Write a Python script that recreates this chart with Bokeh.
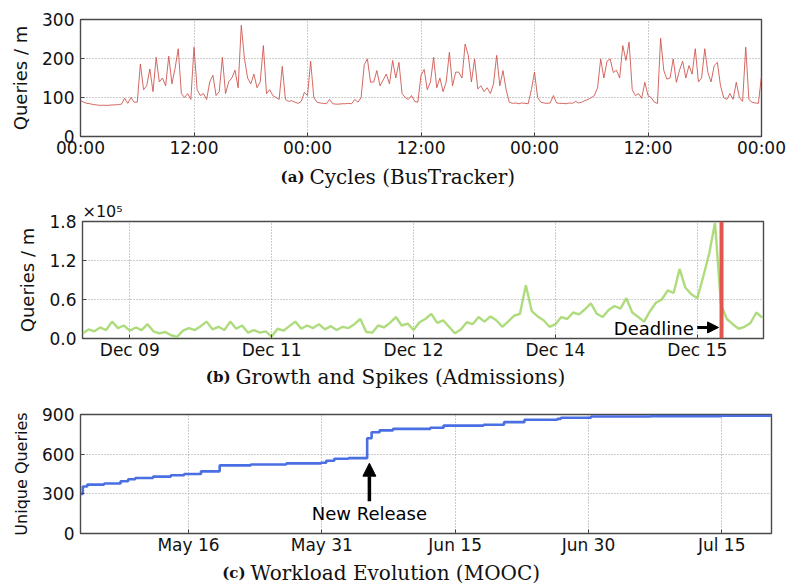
from bokeh.plotting import figure
from bokeh.layouts import column, row
from bokeh.models import Label, Arrow, NormalHead, Span, FixedTicker
from bokeh.embed import file_html
from bokeh.resources import INLINE

# ---------------- (a) Cycles (BusTracker): queries / minute, 20-min samples over 3 days
cycle_step_hours = 1 / 3
cycle_values = [
    # day 1
    92, 88, 85, 84, 82, 81, 80, 80, 80, 80, 81, 81, 82, 83, 98, 85, 100, 88,
    88, 186, 120, 130, 173, 115, 203, 140, 150, 130, 206, 135, 175, 225, 110,
    100, 110, 95, 229, 120, 105, 110, 95, 140, 157, 105, 115, 203, 110, 140,
    150, 170, 125, 285, 200, 150, 135, 160, 125, 140, 233, 110, 120, 105, 100,
    95, 180, 95, 90, 92, 88, 85, 90, 113,
    # day 2
    105, 193, 100, 88, 86, 85, 84, 95, 84, 83, 83, 84, 84, 85, 84, 95, 88, 100,
    184, 199, 139, 140, 169, 130, 145, 160, 135, 195, 150, 190, 110, 100, 95,
    105, 90, 88, 157, 172, 120, 140, 203, 125, 150, 115, 140, 216, 130, 165,
    165, 150, 237, 208, 140, 199, 122, 130, 115, 125, 110, 135, 208, 130, 169,
    120, 88, 85, 86, 84, 86, 85, 84, 120,
    # day 3
    165, 100, 88, 86, 85, 86, 105, 86, 85, 85, 84, 86, 85, 90, 86, 88, 92, 95,
    100, 105, 125, 199, 150, 193, 199, 164, 170, 150, 233, 195, 242, 120, 105,
    110, 98, 139, 105, 100, 88, 85, 252, 170, 147, 150, 199, 139, 170, 193,
    150, 182, 160, 225, 140, 150, 225, 164, 140, 182, 190, 130, 100, 95, 110,
    95, 139, 100, 90, 229, 95, 88, 86, 85,
    155,
]
cycle_ticks = [0, 12, 24, 36, 48, 60, 72]
cycle_tick_labels = ["00:00", "12:00", "00:00", "12:00", "00:00", "12:00", "00:00"]
cycle_yticks = [0, 100, 200, 300]
cycle_ytick_labels = ["0", "100", "200", "300"]

# ---------------- (b) Growth and Spikes (Admissions): hourly queries / minute
adm_values = [
    7700, 14000, 11000, 17000, 13000, 26000, 16000, 20000, 12000, 17000,
    13000, 22000, 11000, 8000, 10000, 5000, 2500, 12000, 16000, 13000,
    19000, 26000, 14000, 18000, 13000, 26000, 15000, 20000, 9000, 13000,
    9000, 11000, 3000, 15000, 12000, 19000, 26000, 15000, 20000, 16000,
    22000, 14000, 19000, 13000, 18000, 16000, 22000, 30000, 10000, 9000,
    20000, 17000, 24000, 33000, 20000, 23000, 13000, 25000, 30000, 38000,
    24000, 28000, 18000, 8000, 14000, 25000, 22000, 33000, 26000, 34000,
    28000, 18000, 26000, 35000, 38000, 82000, 42000, 34000, 28000, 18000,
    22000, 33000, 30000, 40000, 37000, 45000, 54000, 38000, 33000, 44000,
    50000, 46000, 62000, 40000, 33000, 26000, 42000, 55000, 60000, 74000,
    70000, 107000, 78000, 68000, 62000, 95000, 130000, 178000, 52000, 30000,
    22000, 15000, 18000, 24000, 40000, 32000,
]
adm_ticks = [8, 32, 56, 80, 104]
adm_tick_labels = ["Dec 09", "Dec 11", "Dec 12", "Dec 14", "Dec 15"]
adm_yticks = [0, 60000, 120000, 180000]
adm_ytick_labels = ["0.0", "0.6", "1.2", "1.8"]
DEADLINE_HOUR = 108.1

# ---------------- (c) Workload Evolution (MOOC): days since May 1
mooc_days = [2.84, 3.1, 3.6, 5.5, 7.35, 8.2, 9.0, 11, 13, 14.5, 16.4, 18.5,
             22, 26, 29.9, 30.5, 31.4, 33, 35.1, 35.6, 36.5, 38, 42.2, 43.7,
             48.2, 50.5, 52.8, 56.5, 56.9, 60.3, 67, 75, 80.6]
mooc_unique = [300, 355, 370, 378, 395, 410, 420, 430, 440, 450, 470, 515,
               522, 530, 535, 550, 565, 570, 720, 766, 780, 791, 800, 816,
               822, 842, 860, 867, 875, 885, 888, 890, 892]
mooc_ticks = [15, 30, 45, 60, 75]
mooc_tick_labels = ["May 16", "May 31", "Jun 15", "Jun 30", "Jul 15"]
mooc_yticks = [0, 300, 600, 900]
mooc_ytick_labels = ["0", "300", "600", "900"]
RELEASE_DAY = 35.35

SANS = "DejaVu Sans"
SERIF = "DejaVu Serif"
W = 788


def style(p, xt, xl, yt, yl, ylabel, ylabel_size):
    p.xaxis.ticker = FixedTicker(ticks=xt)
    p.xaxis.major_label_overrides = dict(zip(xt, xl))
    p.yaxis.ticker = FixedTicker(ticks=yt)
    p.yaxis.major_label_overrides = dict(zip(yt, yl))
    p.xgrid.ticker = FixedTicker(ticks=xt)
    p.ygrid.ticker = FixedTicker(ticks=yt)
    p.yaxis.axis_label = ylabel
    p.yaxis.axis_label_text_font = SANS
    p.yaxis.axis_label_text_font_size = ylabel_size
    p.yaxis.axis_label_text_font_style = "normal"
    p.yaxis.axis_label_text_color = "#111"
    p.yaxis.axis_label_standoff = 8
    p.axis.major_label_text_font = SANS
    p.axis.major_label_text_font_size = "17px"
    p.axis.major_label_text_color = "#111"
    p.axis.axis_line_color = None
    p.axis.major_tick_in = 4
    p.axis.major_tick_out = 0
    p.axis.major_tick_line_color = "#444"
    p.axis.minor_tick_line_color = None
    p.xaxis.major_label_standoff = 1
    p.yaxis.major_label_standoff = 6
    p.grid.grid_line_color = "#9a9a9a"
    p.grid.grid_line_dash = "1 2"
    p.grid.grid_line_width = 1
    p.outline_line_color = "#4a4a4a"
    p.outline_line_width = 1.4
    p.background_fill_color = "white"
    p.border_fill_color = "white"


def caption_fig(height, tag, text, x_tag_right, y):
    c = figure(width=W, height=height, x_range=(0, W), y_range=(0, height),
               output_backend="svg", toolbar_location=None,
               x_axis_type=None, y_axis_type=None,
               min_border_left=0, min_border_right=0, min_border_top=0,
               min_border_bottom=0)
    c.title.visible = False
    c.grid.visible = False
    c.outline_line_color = None
    c.border_fill_color = "white"
    c.add_layout(Label(x=x_tag_right, y=y, text=tag, text_font=SERIF,
                       text_font_size="15px", text_font_style="bold",
                       text_align="right", text_baseline="alphabetic",
                       text_color="#111"))
    c.add_layout(Label(x=x_tag_right + 5, y=y, text=text, text_font=SERIF,
                       text_font_size="20px", text_align="left",
                       text_baseline="alphabetic", text_color="#111"))
    return c


# ---- panel a
pa = figure(width=W, height=164, x_range=(0, 72), y_range=(0, 300),
            output_backend="svg", toolbar_location=None,
            min_border_left=80, min_border_right=27, min_border_top=19,
            min_border_bottom=28)
cx = [i * cycle_step_hours for i in range(len(cycle_values))]
pa.line(cx, cycle_values, line_color="#cd4f48", line_width=1, line_alpha=0.85)
style(pa, cycle_ticks, cycle_tick_labels, cycle_yticks, cycle_ytick_labels,
      "Queries / m", "18px")
cap_a = caption_fig(26, "(a)", "Cycles (BusTracker)", 304, 14)

# ---- panel b
pb = figure(width=W, height=176, x_range=(0, 115.2), y_range=(0, 180000),
            output_backend="svg", toolbar_location=None,
            min_border_left=82, min_border_right=25, min_border_top=31,
            min_border_bottom=28, title="×10⁵")
pb.title.text_font = SANS
pb.title.text_font_size = "16px"
pb.title.text_font_style = "normal"
pb.title.text_color = "#111"
pb.title.align = "left"
pb.title.offset = 0
pb.title.standoff = 1
bx = list(range(len(adm_values)))
pb.line(bx, adm_values, line_color="#9ad35c", line_width=2.4, line_alpha=0.8)
style(pb, adm_ticks, adm_tick_labels, adm_yticks, adm_ytick_labels,
      "Queries / m", "18px")
pb.add_layout(Span(location=DEADLINE_HOUR, dimension="height",
                   line_color="#e0574e", line_width=4))
pb.add_layout(Arrow(end=NormalHead(size=11, fill_color="black", line_color="black"),
                    x_start=104.0, y_start=17000, x_end=107.6, y_end=17000,
                    line_width=3, line_color="black"))
pb.add_layout(Label(x=103.4, y=15400, text="Deadline", text_font=SANS,
                    text_font_size="18px", text_align="right",
                    text_baseline="alphabetic", text_color="black"))
cap_b = caption_fig(24, "(b)", "Growth and Spikes (Admissions)", 230, 14)

# ---- panel c
pc = figure(width=W, height=171, x_range=(2.84, 80.6), y_range=(0, 900),
            output_backend="svg", toolbar_location=None,
            min_border_left=80, min_border_right=17, min_border_top=24,
            min_border_bottom=28)
pc.step(mooc_days, mooc_unique, mode="after", line_color="#4a6fe3", line_width=2.6)
style(pc, mooc_ticks, mooc_tick_labels, mooc_yticks, mooc_ytick_labels,
      "Unique Queries", "16px")
pc.add_layout(Arrow(end=NormalHead(size=13, fill_color="black", line_color="black"),
                    x_start=RELEASE_DAY, y_start=244, x_end=RELEASE_DAY, y_end=532,
                    line_width=3.5, line_color="black"))
pc.add_layout(Label(x=RELEASE_DAY, y=151, text="New Release", text_font=SANS,
                    text_font_size="18px", text_align="center",
                    text_baseline="alphabetic", text_color="black"))
cap_c = caption_fig(24, "(c)", "Workload Evolution (MOOC)", 245, 13)

layout = column(row(pa), row(cap_a), row(pb), row(cap_b), row(pc), row(cap_c),
                spacing=0)
open("out.html", "w").write(file_html(layout, INLINE))
